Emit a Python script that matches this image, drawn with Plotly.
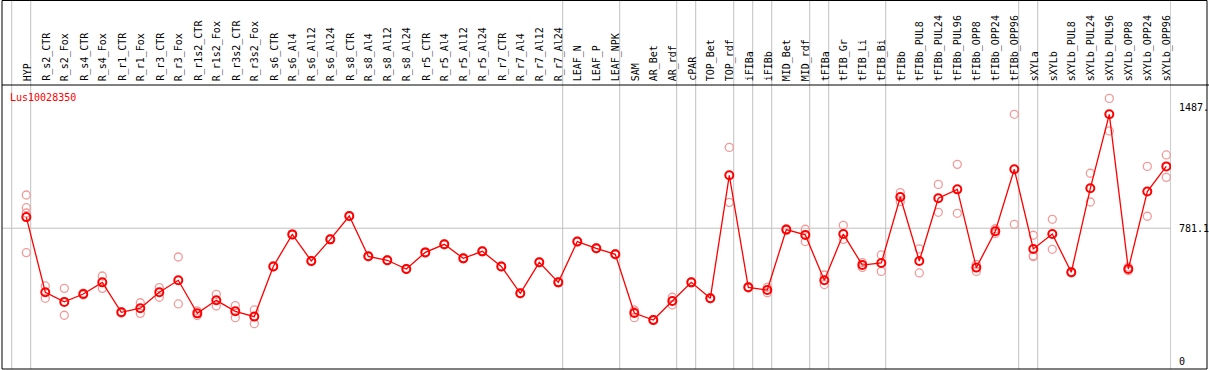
import plotly.graph_objects as go

categories = [
    "HYP", "R_s2_CTR", "R_s2_Fox", "R_s4_CTR", "R_s4_Fox", "R_r1_CTR", "R_r1_Fox",
    "R_r3_CTR", "R_r3_Fox", "R_r1s2_CTR", "R_r1s2_Fox", "R_r3s2_CTR", "R_r3s2_Fox",
    "R_s6_CTR", "R_s6_Al4", "R_s6_Al12", "R_s6_Al24", "R_s8_CTR", "R_s8_Al4",
    "R_s8_Al12", "R_s8_Al24", "R_r5_CTR", "R_r5_Al4", "R_r5_Al12", "R_r5_Al24",
    "R_r7_CTR", "R_r7_Al4", "R_r7_Al12", "R_r7_Al24", "LEAF_N", "LEAF_P", "LEAF_NPK",
    "SAM", "AR_Bet", "AR_rdf", "cPAR", "TOP_Bet", "TOP_rdf", "iFIBa", "iFIBb",
    "MID_Bet", "MID_rdf", "tFIBa", "tFIB_Gr", "tFIB_Li", "tFIB_Bi", "tFIBb",
    "tFIBb_PUL8", "tFIBb_PUL24", "tFIBb_PUL96", "tFIBb_OPP8", "tFIBb_OPP24",
    "tFIBb_OPP96", "sXYLa", "sXYLb", "sXYLb_PUL8", "sXYLb_PUL24", "sXYLb_PUL96",
    "sXYLb_OPP8", "sXYLb_OPP24", "sXYLb_OPP96",
]

means = [
    846, 407, 351, 397, 465, 290, 314, 407, 477, 284, 360, 296, 265,
    558, 745, 590, 716, 852, 617, 594, 543, 640, 687, 605, 646,
    558, 401, 582, 465, 703, 664, 629, 286, 245, 356, 465, 372, 1090,
    436, 420, 773, 742, 477, 747, 566, 578, 963, 590, 956, 1008, 551,
    763, 1125, 660, 747, 524, 1014, 1446, 543, 995, 1142,
]

replicates = [
    [975, 901, 870, 638], [444, 372], [430, 273], [402, 392], [502, 430],
    [294, 286], [346, 284], [434, 378], [613, 339], [298, 271], [395, 327],
    [329, 259], [304, 224], [562, 555], [748, 742], [593, 586], [719, 713],
    [855, 849], [620, 614], [597, 591], [546, 540], [643, 637], [690, 684],
    [608, 602], [649, 643], [561, 555], [404, 398], [585, 579], [468, 462],
    [706, 700], [667, 661], [632, 626], [304, 296, 259], [249, 241], [378, 333],
    [468, 462], [375, 369], [1253, 932], [440, 432], [436, 405], [777, 768],
    [775, 703], [508, 452], [798, 716], [580, 552], [625, 529], [989, 936],
    [660, 520], [1037, 874], [1154, 868], [570, 529], [778, 750], [1446, 804],
    [740, 621, 615], [833, 658], [528, 520], [1102, 934], [1539, 1349],
    [554, 533], [1142, 851], [1209, 1078],
]

# groups end after these category indices (-1 = before the first)
group_ends = [-1, 0, 28, 31, 34, 35, 37, 38, 39, 41, 42, 45, 52, 53, 60]

gene = "Lus10028350"
axis_labels = ["1487.", "781.1", "0"]
axis_values = [1487, 781.1, 0]
grid_value = 781.1

W, H = 1209, 370
ML, MR, MT, MB = 2, 38, 85, 1
plot_h = H - MT - MB
plot_w = W - ML - MR

MONO = "DejaVu Sans Mono, monospace"

fig = go.Figure()

rx, ry = [], []
for i, reps in enumerate(replicates):
    for v in reps:
        rx.append(i)
        ry.append(v)

fig.add_trace(go.Scatter(
    x=rx, y=ry, mode="markers",
    marker=dict(symbol="circle-open", size=8, color="#f29a9a",
                line=dict(width=1.3, color="#f29a9a")),
    hoverinfo="skip", showlegend=False,
))

fig.add_trace(go.Scatter(
    x=list(range(len(categories))), y=means, mode="lines+markers",
    line=dict(color="#ff0000", width=1.3),
    marker=dict(symbol="circle-open", size=8, color="#ff0000",
                line=dict(width=2, color="#ff0000")),
    text=categories, hoverinfo="text+y", showlegend=False,
))

shapes = []
top_paper = (H - MB - 0.5) / plot_h  # y = 0.5 px
right_paper = (1207 - ML) / plot_w

# vertical group separators (full height, through header)
for g in group_ends:
    shapes.append(dict(type="line", xref="x", yref="paper",
                       x0=g + 0.2316, x1=g + 0.2316, y0=0, y1=top_paper,
                       line=dict(color="#c0c0c0", width=1), layer="below"))

# horizontal gridline
shapes.append(dict(type="line", xref="paper", yref="y", x0=0, x1=1,
                   y0=grid_value, y1=grid_value,
                   line=dict(color="#c0c0c0", width=1), layer="below"))

# frame
blk = dict(color="#000000", width=1)
shapes += [
    dict(type="line", xref="paper", yref="paper", x0=0, x1=right_paper, y0=top_paper, y1=top_paper, line=blk),
    dict(type="line", xref="paper", yref="paper", x0=0, x1=right_paper + 0.002, y0=1, y1=1, line=blk),
    dict(type="line", xref="paper", yref="paper", x0=0, x1=right_paper, y0=0, y1=0, line=blk),
    dict(type="line", xref="paper", yref="paper", x0=0, x1=0, y0=0, y1=top_paper, line=blk),
    dict(type="line", xref="paper", yref="paper", x0=right_paper, x1=right_paper, y0=0, y1=top_paper, line=blk),
]

annotations = []
for i, c in enumerate(categories):
    annotations.append(dict(
        x=i, y=1 + 2 / plot_h, xref="x", yref="paper", text=c, showarrow=False,
        textangle=-90, xanchor="center", yanchor="bottom", xshift=1,
        font=dict(family=MONO, size=10, color="#000000"),
    ))

annotations.append(dict(
    x=(8 - ML) / plot_w, y=(H - MB - 97) / plot_h, xref="paper", yref="paper",
    text=gene, showarrow=False, xanchor="left", yanchor="middle",
    font=dict(family=MONO, size=10, color="#ff0000"),
))

for lab, v in zip(axis_labels, axis_values):
    annotations.append(dict(
        x=(1177 - ML) / plot_w, y=v, xref="paper", yref="y", text=lab,
        showarrow=False, xanchor="left", yanchor="middle",
        font=dict(family=MONO, size=10, color="#000000"),
    ))

fig.update_layout(
    width=W, height=H, autosize=False,
    margin=dict(l=ML, r=MR, t=MT, b=MB, pad=0),
    paper_bgcolor="#ffffff", plot_bgcolor="#ffffff",
    xaxis=dict(range=[-1.279, 60.247], showgrid=False, zeroline=False,
               showticklabels=False, ticks="", fixedrange=True),
    yaxis=dict(range=[-40.9, 1617.2], showgrid=False, zeroline=False,
               showticklabels=False, ticks="", fixedrange=True),
    shapes=shapes, annotations=annotations,
    hovermode="closest",
)

fig.write_html("out.html", config={"displayModeBar": False},
               post_script="document.body.style.margin='0';document.body.style.overflow='hidden';")
